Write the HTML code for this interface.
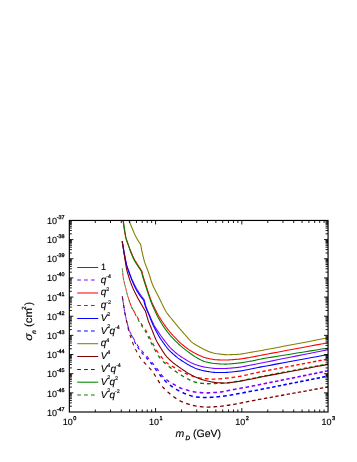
<!DOCTYPE html>
<html><head><meta charset="utf-8"><title>plot</title>
<style>html,body{margin:0;padding:0;background:#fff;}svg{will-change:transform;}body{width:357px;height:462px;position:relative;overflow:hidden;font-family:"Liberation Sans",sans-serif;}</style>
</head><body>
<svg width="357" height="462" viewBox="0 0 357 462" style="position:absolute;left:0;top:0">
<rect width="357" height="462" fill="#fff"/>
<defs><clipPath id="c"><rect x="69.35" y="220.45" width="258.70" height="191.55"/></clipPath></defs>
<g clip-path="url(#c)" fill="none" stroke-linejoin="round">
<path d="M122.20,241.20L122.28,241.68L122.40,242.40L122.56,243.30L122.74,244.36L122.94,245.52L123.15,246.76L123.37,248.02L123.58,249.26L123.79,250.46L123.98,251.55L124.16,252.52L124.30,253.30L124.44,254.06L124.62,254.95L124.81,255.94L125.02,257.01L125.24,258.12L125.46,259.24L125.69,260.35L125.91,261.41L126.11,262.40L126.30,263.28L126.46,264.02L126.60,264.60L126.72,265.08L126.86,265.56L126.99,266.02L127.14,266.48L127.29,266.93L127.44,267.38L127.60,267.82L127.76,268.26L127.92,268.70L128.08,269.13L128.24,269.57L128.40,270.00L128.59,270.51L128.82,271.16L129.10,271.91L129.40,272.75L129.74,273.65L130.08,274.59L130.44,275.53L130.79,276.46L131.13,277.34L131.45,278.16L131.74,278.89L132.00,279.50L132.27,280.10L132.59,280.80L132.96,281.58L133.36,282.41L133.78,283.28L134.22,284.17L134.65,285.05L135.08,285.90L135.49,286.70L135.87,287.43L136.21,288.07L136.50,288.60L136.79,289.10L137.12,289.66L137.50,290.26L137.90,290.90L138.32,291.55L138.75,292.21L139.18,292.85L139.59,293.47L139.98,294.05L140.33,294.58L140.64,295.03L140.90,295.40L141.15,295.75L141.43,296.13L141.74,296.55L142.07,296.98L142.41,297.42L142.74,297.85L143.07,298.26L143.37,298.65L143.65,299.00L143.88,299.30L144.07,299.53L144.20,299.70L144.26,299.95L144.35,300.31L144.45,300.77L144.58,301.30L144.72,301.89L144.87,302.52L145.03,303.17L145.19,303.81L145.35,304.44L145.51,305.03L145.66,305.55L145.80,306.00L145.95,306.44L146.13,306.96L146.34,307.53L146.57,308.15L146.82,308.81L147.08,309.50L147.35,310.20L147.63,310.90L147.91,311.59L148.18,312.27L148.45,312.91L148.70,313.50L148.99,314.16L149.35,314.99L149.77,315.96L150.24,317.03L150.74,318.18L151.27,319.36L151.81,320.55L152.34,321.72L152.86,322.83L153.35,323.85L153.80,324.75L154.20,325.50L154.61,326.22L155.10,327.04L155.66,327.94L156.26,328.89L156.91,329.89L157.57,330.90L158.25,331.91L158.91,332.90L159.55,333.84L160.16,334.72L160.71,335.51L161.20,336.20L161.71,336.90L162.31,337.72L162.99,338.64L163.74,339.63L164.53,340.66L165.34,341.72L166.15,342.77L166.95,343.78L167.71,344.73L168.42,345.60L169.06,346.35L169.60,346.97L170.13,347.54L170.74,348.16L171.42,348.82L172.14,349.51L172.90,350.22L173.68,350.93L174.46,351.64L175.24,352.32L176.00,352.97L176.72,353.57L177.39,354.11L178.00,354.58L178.66,355.06L179.47,355.63L180.40,356.26L181.43,356.94L182.51,357.64L183.63,358.36L184.74,359.06L185.82,359.74L186.84,360.36L187.76,360.92L188.56,361.39L189.20,361.76L189.78,362.07L190.42,362.39L191.10,362.71L191.80,363.03L192.52,363.34L193.25,363.65L193.97,363.94L194.66,364.22L195.33,364.47L195.94,364.70L196.51,364.91L197.00,365.08L197.50,365.25L198.07,365.42L198.70,365.61L199.37,365.80L200.08,365.99L200.81,366.18L201.55,366.37L202.27,366.54L202.97,366.71L203.64,366.86L204.25,366.99L204.80,367.10L205.38,367.20L206.06,367.32L206.84,367.45L207.69,367.58L208.59,367.71L209.53,367.84L210.47,367.96L211.40,368.08L212.29,368.19L213.14,368.28L213.92,368.35L214.60,368.40L215.30,368.43L216.14,368.46L217.09,368.49L218.12,368.50L219.21,368.51L220.33,368.51L221.46,368.51L222.58,368.50L223.66,368.49L224.67,368.46L225.59,368.43L226.40,368.40L227.23,368.35L228.23,368.28L229.35,368.20L230.56,368.10L231.85,367.98L233.17,367.86L234.49,367.74L235.79,367.61L237.03,367.47L238.18,367.34L239.22,367.22L240.10,367.10L240.99,366.96L242.02,366.79L243.18,366.58L244.43,366.35L245.73,366.10L247.06,365.84L248.38,365.58L249.67,365.32L250.88,365.08L252.00,364.86L252.98,364.66L253.80,364.50L254.46,364.37L255.04,364.26L255.55,364.16L256.07,364.07L256.61,363.96L257.23,363.84L257.98,363.70L258.88,363.52L260.00,363.30L261.36,363.03L263.01,362.70L265.00,362.30L267.93,361.71L272.18,360.86L277.50,359.79L283.60,358.56L290.22,357.23L297.09,355.85L303.93,354.48L310.47,353.16L316.43,351.97L321.56,350.93L325.57,350.13L328.20,349.60" stroke="#8000ff" stroke-width="1.08"/>
<path d="M122.30,296.50L122.33,296.68M122.95,300.79L123.00,301.08L123.25,302.77L123.49,304.29M124.13,308.40L124.38,309.92L124.64,311.50L124.71,311.89M125.52,315.97L125.61,316.34L125.93,317.74L126.28,319.25L126.33,319.42" stroke="#8000ff" stroke-width="1.00"/>
<path d="M127.32,323.46L127.44,323.93L127.82,325.40L128.17,326.76L128.21,326.89M129.43,330.86L129.65,331.34L129.89,331.81L130.13,332.25L130.38,332.67L130.63,333.07L130.87,333.46L131.12,333.84L131.18,333.93M133.13,337.60L133.48,338.30L133.90,339.13L134.33,339.97L134.74,340.76M136.82,344.35L136.86,344.41L137.26,344.99L137.69,345.60L138.15,346.23L138.62,346.87L138.89,347.23" stroke="#8000ff" stroke-width="1.05"/>
<path d="M141.46,350.50L141.57,350.63L142.02,351.14L142.54,351.70L143.10,352.31L143.69,352.94L143.85,353.11" stroke="#8000ff" stroke-width="1.10"/>
<path d="M146.70,356.13L147.03,356.49L147.40,356.90L147.75,357.30L148.13,357.75L148.55,358.24L148.99,358.77L149.02,358.81" stroke="#8000ff" stroke-width="1.15"/>
<path d="M151.67,362.02L151.99,362.42L152.30,362.80L152.62,363.19L152.98,363.65L153.39,364.16L153.83,364.71L153.89,364.78" stroke="#8000ff" stroke-width="1.20"/>
<path d="M156.46,368.04L156.53,368.13L156.89,368.60L157.20,369.00L157.50,369.41L157.85,369.89L158.23,370.42L158.56,370.90" stroke="#8000ff" stroke-width="1.30"/>
<path d="M160.98,374.28L161.18,374.54L161.56,375.01L161.90,375.40L162.26,375.78L162.70,376.22L163.21,376.70L163.39,376.88" stroke="#8000ff" stroke-width="1.35"/>
<path d="M166.43,379.57L166.74,379.84L167.28,380.29L167.77,380.68L168.20,381.00L168.63,381.31L169.15,381.65L169.29,381.74" stroke="#8000ff" stroke-width="1.40"/>
<path d="M172.63,383.75L173.04,383.98L173.67,384.34L174.25,384.67L174.77,384.96L175.20,385.20L175.62,385.43L175.80,385.53M179.10,387.27L179.52,387.49L180.08,387.76L180.60,388.01L181.08,388.22L181.50,388.40L181.93,388.56L182.44,388.74L182.46,388.75" stroke="#8000ff" stroke-width="1.45"/>
<path d="M185.86,389.78L186.30,389.90L186.94,390.08L187.52,390.24L188.05,390.38L188.50,390.50L188.94,390.62L189.44,390.75L189.45,390.75" stroke="#8000ff" stroke-width="1.50"/>
<path d="M192.72,391.57L193.10,391.66L193.74,391.79L194.35,391.91L194.94,392.02L195.50,392.10L196.12,392.17L196.42,392.21M199.60,392.51L199.77,392.52L200.86,392.61L201.96,392.69L203.05,392.76L203.38,392.78M206.46,392.90L206.80,392.90L207.62,392.89L208.61,392.86L209.72,392.81L210.23,392.79M213.25,392.62L213.55,392.60L214.87,392.51L216.18,392.41L216.99,392.35M219.94,392.07L220.50,392.00L221.38,391.88L222.39,391.71L223.51,391.51L223.63,391.49M226.48,390.94L227.26,390.79L228.56,390.53L229.83,390.27L230.13,390.21M232.92,389.65L233.27,389.58L234.20,389.40L235.16,389.22L236.30,389.01L236.55,388.96M239.30,388.46L240.47,388.25L241.99,387.97L242.89,387.80M245.57,387.31L246.41,387.15L247.73,386.91L248.90,386.69L249.11,386.65M251.71,386.15L252.49,386.00L253.38,385.82L254.33,385.64L255.19,385.47M257.71,384.96L257.82,384.94L259.29,384.64L260.96,384.31L261.15,384.27" stroke="#8000ff" stroke-width="1.55"/>
<path d="M263.60,383.78L265.00,383.50L266.99,383.10M269.38,382.62L272.34,382.03L272.71,381.95M275.05,381.48L277.69,380.95L278.39,380.81M280.70,380.35L283.81,379.72L284.03,379.68M286.31,379.22L289.65,378.55M291.90,378.10L295.23,377.43M297.45,376.98L300.79,376.31M302.98,375.87L304.07,375.65L306.32,375.20M308.48,374.76L310.57,374.34L311.83,374.09M313.96,373.66L316.50,373.15L317.30,372.99M319.40,372.57L321.59,372.13L322.75,371.90M324.82,371.48L325.58,371.33L328.17,370.81" stroke="#8000ff" stroke-width="1.60"/>
<path d="M122.50,217.00L122.52,217.15L122.54,217.34L122.57,217.56L122.60,217.83L122.64,218.14L122.68,218.49L122.73,218.87L122.79,219.30L122.85,219.77L122.93,220.27L123.01,220.82L123.10,221.40L123.22,222.16L123.36,223.19L123.54,224.44L123.75,225.87L123.98,227.43L124.22,229.06L124.48,230.72L124.74,232.36L125.01,233.92L125.28,235.37L125.55,236.64L125.80,237.70L126.10,238.74L126.50,239.96L126.97,241.33L127.50,242.79L128.07,244.33L128.66,245.88L129.25,247.41L129.82,248.87L130.37,250.24L130.85,251.46L131.27,252.49L131.60,253.30L131.88,253.98L132.18,254.67L132.48,255.36L132.78,256.04L133.10,256.72L133.42,257.39L133.73,258.04L134.05,258.68L134.37,259.30L134.69,259.89L135.00,260.46L135.30,261.00L135.67,261.62L136.15,262.40L136.73,263.31L137.37,264.31L138.06,265.36L138.76,266.44L139.45,267.49L140.11,268.49L140.71,269.40L141.23,270.18L141.63,270.79L141.90,271.20L141.94,271.36L141.98,271.58L142.04,271.86L142.11,272.18L142.18,272.54L142.27,272.93L142.36,273.35L142.46,273.78L142.56,274.22L142.67,274.66L142.78,275.09L142.90,275.50L143.04,275.97L143.21,276.55L143.42,277.23L143.66,278.00L143.92,278.83L144.19,279.70L144.48,280.61L144.77,281.53L145.07,282.45L145.36,283.34L145.64,284.20L145.90,285.00L146.20,285.90L146.57,287.05L147.00,288.40L147.49,289.90L148.01,291.51L148.56,293.17L149.11,294.85L149.67,296.49L150.21,298.06L150.72,299.49L151.19,300.76L151.60,301.80L152.03,302.81L152.56,303.96L153.16,305.23L153.82,306.59L154.52,308.00L155.24,309.43L155.97,310.84L156.67,312.20L157.35,313.48L157.97,314.65L158.53,315.66L159.00,316.50L159.46,317.28L159.99,318.15L160.58,319.08L161.21,320.05L161.87,321.05L162.54,322.05L163.21,323.03L163.86,323.98L164.48,324.87L165.06,325.68L165.57,326.40L166.00,327.00L166.42,327.57L166.90,328.19L167.42,328.86L167.97,329.56L168.55,330.28L169.14,331.00L169.73,331.72L170.32,332.43L170.89,333.10L171.43,333.74L171.94,334.32L172.40,334.83L172.89,335.37L173.49,336.00L174.17,336.72L174.91,337.50L175.70,338.32L176.51,339.15L177.33,339.98L178.13,340.79L178.90,341.55L179.62,342.25L180.26,342.86L180.80,343.36L181.34,343.83L181.97,344.36L182.67,344.93L183.43,345.54L184.22,346.16L185.03,346.79L185.83,347.40L186.62,348.00L187.37,348.55L188.06,349.06L188.68,349.50L189.20,349.86L189.72,350.20L190.31,350.57L190.96,350.96L191.66,351.37L192.38,351.79L193.13,352.21L193.87,352.62L194.59,353.02L195.28,353.39L195.92,353.73L196.50,354.03L197.00,354.28L197.50,354.52L198.07,354.80L198.70,355.09L199.37,355.41L200.08,355.73L200.81,356.05L201.55,356.36L202.27,356.66L202.97,356.95L203.64,357.20L204.25,357.42L204.80,357.60L205.38,357.76L206.06,357.94L206.84,358.13L207.69,358.33L208.59,358.53L209.53,358.73L210.47,358.92L211.40,359.09L212.29,359.26L213.14,359.40L213.92,359.51L214.60,359.60L215.30,359.67L216.14,359.73L217.09,359.79L218.12,359.84L219.21,359.89L220.33,359.93L221.46,359.96L222.58,359.99L223.66,360.01L224.67,360.01L225.59,360.01L226.40,360.00L227.23,359.97L228.23,359.93L229.35,359.87L230.56,359.80L231.85,359.71L233.17,359.62L234.49,359.52L235.79,359.41L237.03,359.31L238.18,359.20L239.22,359.10L240.10,359.00L240.99,358.88L242.02,358.73L243.18,358.55L244.43,358.35L245.73,358.13L247.06,357.90L248.38,357.67L249.67,357.44L250.88,357.23L252.00,357.03L252.98,356.85L253.80,356.70L254.46,356.58L255.04,356.47L255.55,356.36L256.07,356.26L256.61,356.15L257.23,356.02L257.98,355.86L258.88,355.68L260.00,355.46L261.36,355.19L263.01,354.88L265.00,354.50L267.93,353.95L272.18,353.15L277.50,352.16L283.60,351.02L290.22,349.78L297.09,348.50L303.93,347.23L310.47,346.01L316.43,344.89L321.56,343.94L325.57,343.19L328.20,342.70" stroke="#ff0000" stroke-width="1.08"/>
<path d="M122.30,268.60L122.31,268.64L122.31,268.68L122.32,268.72L122.33,268.77L122.35,268.84L122.35,268.88M122.77,273.01L122.79,273.16L122.87,274.04L122.95,274.93L123.04,275.81L123.12,276.54M123.81,280.63L123.99,281.38L124.19,282.18L124.39,283.00L124.60,283.82L124.67,284.07M125.70,288.10L125.80,288.51L125.98,289.24L126.17,290.02L126.37,290.85L126.54,291.54M127.58,295.56L127.70,296.00L127.86,296.53L128.05,297.14L128.26,297.82L128.50,298.55L128.63,298.95" stroke="#ff0000" stroke-width="1.00"/>
<path d="M129.97,302.88L130.14,303.37L130.30,303.80L130.44,304.16L130.57,304.51L130.71,304.86L130.85,305.20L130.99,305.55L131.15,305.91L131.27,306.18M133.20,309.86L133.43,310.27L134.10,311.44L134.85,312.77L134.95,312.94M137.02,316.54L137.40,317.20L138.24,318.65L138.79,319.61M140.92,323.18L141.20,323.62L141.61,324.24L142.04,324.85L142.47,325.45L142.91,326.04L142.94,326.09" stroke="#ff0000" stroke-width="1.05"/>
<path d="M145.37,329.46L145.70,330.00L146.06,330.63L146.49,331.42L146.99,332.34L147.10,332.55" stroke="#ff0000" stroke-width="1.10"/>
<path d="M149.02,336.24L149.27,336.72L149.84,337.83L150.39,338.89L150.64,339.39M152.58,343.07L152.86,343.60L153.30,344.45L153.77,345.34L154.23,346.20" stroke="#ff0000" stroke-width="1.15"/>
<path d="M156.26,349.83L156.59,350.36L157.00,351.00L157.47,351.67L158.05,352.48L158.25,352.76" stroke="#ff0000" stroke-width="1.20"/>
<path d="M160.77,356.07L161.10,356.49L161.93,357.54L162.74,358.56L162.98,358.84" stroke="#ff0000" stroke-width="1.25"/>
<path d="M165.70,361.87L165.91,362.07L166.50,362.55L167.15,363.04L167.84,363.52L168.56,364.01L168.57,364.01M171.91,366.07L172.05,366.16L172.62,366.50L173.10,366.80L173.58,367.10L174.13,367.43L174.74,367.80L175.01,367.96M178.26,369.83L178.80,370.13L179.40,370.47L179.94,370.76L180.40,371.00L180.86,371.23L181.40,371.49L181.51,371.54" stroke="#ff0000" stroke-width="1.30"/>
<path d="M184.76,373.02L185.33,373.27L185.96,373.55L186.54,373.80L187.06,374.02L187.50,374.20L187.93,374.38L188.18,374.47M191.36,375.69L191.37,375.70L191.97,375.92L192.55,376.12L193.09,376.31L193.57,376.47L194.00,376.60L194.42,376.72L194.89,376.86L194.92,376.87M198.05,377.68L198.39,377.75L199.03,377.89L199.66,378.01L200.29,378.11L200.90,378.20L201.62,378.28L201.78,378.30M204.85,378.59L204.86,378.59L206.17,378.71L207.54,378.81L208.62,378.89M211.65,379.09L212.72,379.15L213.75,379.19L214.60,379.20L215.40,379.19L215.41,379.19M218.37,379.01L219.40,378.93L220.50,378.83L221.60,378.72L222.10,378.67M225.00,378.36L225.60,378.29L226.40,378.20L227.23,378.10L228.23,377.98L228.70,377.92M231.54,377.56L231.85,377.52L233.17,377.34L234.49,377.16L235.20,377.05M237.98,376.65L238.18,376.62L239.22,376.45L240.10,376.30L240.99,376.13L241.59,376.01M244.26,375.44L244.43,375.41L245.73,375.12L247.06,374.82L247.79,374.65M250.38,374.06L250.88,373.95L252.00,373.70L252.98,373.48L253.80,373.30L253.86,373.29M256.39,372.73L256.61,372.68L257.23,372.54L257.98,372.39L258.88,372.20L259.82,372.01M262.30,371.52L263.01,371.38L265.00,371.00L265.70,370.87M268.11,370.41L271.46,369.77M273.81,369.32L277.15,368.68M279.47,368.24L282.81,367.61M285.10,367.17L288.45,366.54M290.71,366.11L294.05,365.48M296.28,365.05L297.09,364.90L299.63,364.42M301.83,364.00L303.93,363.60L305.18,363.37M307.35,362.95L310.47,362.36L310.70,362.32M312.84,361.91L316.19,361.28M318.30,360.88L321.56,360.26L321.65,360.24M323.74,359.85L325.57,359.50L327.09,359.21" stroke="#ff0000" stroke-width="1.35"/>
<path d="M122.20,241.20L122.28,241.68L122.40,242.40L122.54,243.30L122.71,244.36L122.90,245.52L123.10,246.76L123.31,248.02L123.52,249.26L123.71,250.46L123.90,251.55L124.06,252.52L124.20,253.30L124.34,254.06L124.50,254.95L124.69,255.94L124.89,257.01L125.10,258.12L125.31,259.24L125.53,260.35L125.74,261.41L125.93,262.40L126.11,263.28L126.27,264.02L126.40,264.60L126.52,265.08L126.64,265.56L126.77,266.02L126.91,266.48L127.05,266.93L127.19,267.38L127.34,267.82L127.49,268.26L127.64,268.70L127.80,269.13L127.95,269.57L128.10,270.00L128.28,270.51L128.51,271.15L128.77,271.91L129.07,272.74L129.40,273.64L129.74,274.57L130.08,275.51L130.42,276.44L130.75,277.32L131.07,278.15L131.35,278.88L131.60,279.50L131.86,280.12L132.16,280.84L132.51,281.65L132.90,282.52L133.30,283.43L133.72,284.36L134.13,285.28L134.54,286.17L134.93,287.02L135.30,287.78L135.62,288.45L135.90,289.00L136.18,289.52L136.50,290.10L136.87,290.72L137.26,291.38L137.67,292.05L138.09,292.73L138.50,293.39L138.90,294.03L139.29,294.62L139.64,295.16L139.94,295.62L140.20,296.00L140.45,296.35L140.75,296.74L141.07,297.16L141.42,297.59L141.78,298.03L142.14,298.46L142.49,298.87L142.81,299.26L143.11,299.60L143.36,299.90L143.56,300.14L143.70,300.30L143.76,300.54L143.86,300.89L143.97,301.33L144.10,301.84L144.25,302.41L144.41,303.02L144.58,303.64L144.75,304.27L144.92,304.87L145.09,305.44L145.25,305.96L145.40,306.40L145.57,306.84L145.77,307.36L146.01,307.95L146.28,308.58L146.56,309.25L146.86,309.95L147.17,310.67L147.48,311.38L147.79,312.09L148.08,312.77L148.35,313.41L148.60,314.00L148.87,314.65L149.19,315.46L149.56,316.39L149.97,317.42L150.41,318.52L150.86,319.66L151.32,320.81L151.78,321.94L152.23,323.03L152.66,324.03L153.05,324.93L153.40,325.70L153.77,326.46L154.21,327.35L154.71,328.33L155.26,329.40L155.84,330.51L156.44,331.65L157.06,332.79L157.66,333.91L158.26,334.97L158.82,335.96L159.34,336.84L159.80,337.60L160.29,338.36L160.87,339.25L161.54,340.24L162.27,341.31L163.05,342.42L163.85,343.55L164.66,344.68L165.46,345.77L166.23,346.80L166.96,347.74L167.62,348.56L168.20,349.24L168.79,349.88L169.49,350.59L170.28,351.36L171.14,352.18L172.05,353.01L172.98,353.85L173.92,354.69L174.84,355.49L175.73,356.25L176.57,356.94L177.33,357.56L178.00,358.08L178.69,358.59L179.53,359.18L180.47,359.81L181.50,360.49L182.58,361.19L183.69,361.90L184.79,362.59L185.86,363.25L186.86,363.87L187.77,364.42L188.56,364.89L189.20,365.26L189.78,365.58L190.42,365.92L191.10,366.26L191.80,366.61L192.52,366.95L193.25,367.29L193.97,367.62L194.66,367.93L195.33,368.21L195.94,368.47L196.51,368.69L197.00,368.88L197.50,369.06L198.07,369.24L198.70,369.44L199.37,369.64L200.08,369.84L200.81,370.04L201.55,370.23L202.27,370.42L202.97,370.59L203.64,370.75L204.25,370.88L204.80,371.00L205.38,371.11L206.06,371.23L206.84,371.37L207.69,371.51L208.59,371.65L209.53,371.79L210.47,371.93L211.40,372.06L212.29,372.17L213.14,372.27L213.92,372.35L214.60,372.40L215.30,372.44L216.14,372.47L217.09,372.49L218.12,372.51L219.21,372.52L220.33,372.52L221.46,372.52L222.58,372.51L223.66,372.49L224.67,372.47L225.59,372.44L226.40,372.40L227.23,372.35L228.23,372.27L229.35,372.18L230.56,372.07L231.85,371.95L233.17,371.81L234.49,371.68L235.79,371.53L237.03,371.39L238.18,371.25L239.22,371.12L240.10,371.00L240.99,370.86L242.02,370.68L243.18,370.48L244.43,370.24L245.73,369.99L247.06,369.74L248.38,369.47L249.67,369.22L250.88,368.98L252.00,368.75L252.98,368.56L253.80,368.40L254.46,368.27L255.04,368.16L255.55,368.05L256.07,367.94L256.61,367.83L257.23,367.70L257.98,367.55L258.88,367.37L260.00,367.15L261.36,366.89L263.01,366.57L265.00,366.20L267.93,365.66L272.18,364.87L277.50,363.88L283.60,362.75L290.22,361.52L297.09,360.25L303.93,358.99L310.47,357.78L316.43,356.68L321.56,355.73L325.57,354.99L328.20,354.50" stroke="#0000ff" stroke-width="1.08"/>
<path d="M122.30,296.50L122.41,297.20L122.57,298.23L122.77,299.55L122.92,300.53M123.54,304.64L123.81,306.38L124.09,308.14M124.78,312.25L124.89,312.87L125.10,314.00L125.33,315.09L125.46,315.72M126.39,319.77L126.66,320.90L127.05,322.50L127.23,323.22" stroke="#0000ff" stroke-width="1.00"/>
<path d="M128.24,327.25L128.49,328.20L128.77,329.22L129.00,330.00L129.20,330.62L129.21,330.65M130.97,334.42L131.12,334.69L131.36,335.13L131.58,335.57L131.80,336.00L132.04,336.50L132.34,337.12L132.56,337.58M134.38,341.32L134.76,342.07L135.17,342.88L135.55,343.62L135.77,344.02M137.64,347.05L137.69,347.13L138.15,347.80L138.62,348.48L139.10,349.15L139.37,349.54" stroke="#0000ff" stroke-width="1.05"/>
<path d="M141.52,352.39L141.57,352.46L142.02,352.99L142.53,353.58L143.09,354.21L143.51,354.68" stroke="#0000ff" stroke-width="1.10"/>
<path d="M145.90,357.33L146.04,357.49L146.56,358.06L147.02,358.57L147.40,359.00L147.77,359.42L147.92,359.59" stroke="#0000ff" stroke-width="1.15"/>
<path d="M150.28,362.25L150.70,362.73L151.20,363.30L151.67,363.85L152.11,364.35L152.36,364.66" stroke="#0000ff" stroke-width="1.20"/>
<path d="M154.80,368.02L154.92,368.20L155.31,368.77L155.69,369.32L156.05,369.86L156.40,370.36L156.72,370.81L156.81,370.94" stroke="#0000ff" stroke-width="1.25"/>
<path d="M159.31,374.27L159.36,374.34L159.82,374.94L160.28,375.53L160.73,376.10L161.16,376.62L161.51,377.04" stroke="#0000ff" stroke-width="1.35"/>
<path d="M164.31,380.05L164.35,380.10L164.96,380.71L165.57,381.32L166.17,381.91L166.74,382.47L166.85,382.57" stroke="#0000ff" stroke-width="1.40"/>
<path d="M169.90,385.10L170.36,385.43L171.02,385.90L171.70,386.37L172.38,386.84L172.87,387.17M176.07,389.23L176.10,389.25L176.63,389.56L177.20,389.89L177.78,390.22L178.38,390.55L178.98,390.88L179.25,391.03" stroke="#0000ff" stroke-width="1.45"/>
<path d="M182.51,392.65L182.89,392.81L183.44,393.04L184.02,393.28L184.62,393.51L185.22,393.74L185.80,393.97L185.94,394.02M189.20,395.19L189.24,395.21L189.81,395.41L190.42,395.62L191.05,395.83L191.70,396.03L192.34,396.23L192.76,396.34" stroke="#0000ff" stroke-width="1.50"/>
<path d="M195.98,396.94L196.25,396.97L197.19,397.05L198.23,397.13L199.35,397.21L199.75,397.24M202.85,397.41L203.97,397.45L205.02,397.48L205.98,397.50L206.64,397.50M209.68,397.38L209.76,397.38L210.97,397.30L212.26,397.22L213.44,397.13M216.42,396.89L217.43,396.80L218.58,396.69L219.62,396.59L220.15,396.54M223.07,396.18L223.51,396.12L224.71,395.96L225.97,395.78L226.76,395.67M229.60,395.24L229.83,395.21L231.06,395.01L232.22,394.83L233.26,394.66M236.04,394.16L236.30,394.11L237.59,393.86L239.00,393.58L239.66,393.45M242.36,392.91L243.51,392.68L244.99,392.38L245.91,392.19M248.55,391.66L248.90,391.59L249.90,391.40L250.78,391.23L251.63,391.08L252.06,391.00M254.63,390.54L255.37,390.41L256.53,390.20L257.82,389.97L258.10,389.91M260.60,389.45L260.96,389.38L262.85,389.02L264.01,388.79" stroke="#0000ff" stroke-width="1.55"/>
<path d="M266.44,388.32L268.02,388.01L269.80,387.66M272.16,387.19L272.34,387.16L275.49,386.53M277.82,386.07L281.16,385.41M283.45,384.96L283.81,384.89L286.79,384.30M289.06,383.85L290.42,383.58L292.40,383.19M294.63,382.75L297.26,382.23L297.97,382.09M300.18,381.65L303.52,380.99M305.70,380.56L309.04,379.89M311.19,379.47L314.53,378.81M316.65,378.39L320.00,377.72M322.09,377.31L325.43,376.65M327.50,376.24L328.20,376.10" stroke="#0000ff" stroke-width="1.60"/>
<path d="M127.40,217.00L127.47,217.15L127.55,217.35L127.66,217.59L127.78,217.88L127.92,218.20L128.08,218.56L128.25,218.96L128.44,219.39L128.64,219.85L128.85,220.34L129.07,220.86L129.30,221.40L129.60,222.10L130.00,223.06L130.48,224.23L131.03,225.57L131.63,227.01L132.26,228.51L132.89,230.03L133.51,231.50L134.10,232.88L134.64,234.13L135.12,235.18L135.50,236.00L135.87,236.72L136.30,237.52L136.79,238.36L137.30,239.24L137.84,240.12L138.37,240.99L138.89,241.82L139.38,242.60L139.82,243.29L140.20,243.89L140.50,244.37L140.70,244.70L140.75,244.97L140.82,245.35L140.90,245.83L141.00,246.40L141.12,247.02L141.24,247.69L141.36,248.39L141.49,249.09L141.63,249.78L141.76,250.44L141.88,251.06L142.00,251.60L142.13,252.18L142.30,252.90L142.49,253.73L142.70,254.64L142.93,255.61L143.18,256.62L143.43,257.64L143.68,258.64L143.93,259.61L144.17,260.50L144.39,261.31L144.60,262.00L144.83,262.69L145.11,263.50L145.44,264.39L145.80,265.37L146.19,266.38L146.59,267.43L146.99,268.48L147.39,269.51L147.77,270.50L148.12,271.43L148.44,272.27L148.70,273.00L148.95,273.74L149.24,274.62L149.55,275.60L149.89,276.67L150.24,277.78L150.60,278.93L150.97,280.08L151.34,281.21L151.70,282.29L152.05,283.30L152.39,284.21L152.70,285.00L153.05,285.79L153.48,286.71L153.97,287.74L154.52,288.85L155.11,290.02L155.72,291.21L156.34,292.41L156.94,293.59L157.53,294.73L158.08,295.79L158.57,296.75L159.00,297.60L159.43,298.48L159.94,299.53L160.52,300.72L161.14,302.01L161.80,303.37L162.47,304.76L163.14,306.14L163.80,307.47L164.44,308.72L165.02,309.85L165.55,310.82L166.00,311.60L166.45,312.30L166.98,313.07L167.58,313.87L168.21,314.70L168.88,315.55L169.56,316.39L170.24,317.22L170.89,318.01L171.52,318.76L172.08,319.44L172.58,320.05L173.00,320.56L173.39,321.05L173.83,321.59L174.30,322.17L174.79,322.78L175.31,323.41L175.83,324.04L176.34,324.67L176.85,325.28L177.34,325.87L177.80,326.43L178.22,326.93L178.60,327.38L178.99,327.83L179.45,328.37L179.97,328.98L180.53,329.63L181.13,330.31L181.74,331.01L182.35,331.72L182.96,332.41L183.54,333.07L184.08,333.68L184.57,334.24L185.00,334.72L185.43,335.20L185.94,335.78L186.51,336.43L187.12,337.13L187.77,337.86L188.43,338.61L189.10,339.35L189.75,340.07L190.39,340.74L190.98,341.35L191.52,341.87L192.00,342.29L192.49,342.67L193.08,343.09L193.74,343.53L194.46,343.99L195.22,344.46L196.00,344.92L196.78,345.37L197.54,345.81L198.26,346.22L198.92,346.59L199.51,346.92L200.00,347.20L200.47,347.47L201.01,347.76L201.59,348.08L202.21,348.42L202.86,348.76L203.52,349.11L204.17,349.44L204.82,349.77L205.43,350.08L206.01,350.36L206.54,350.60L207.00,350.80L207.46,350.99L208.00,351.20L208.59,351.43L209.22,351.66L209.90,351.90L210.59,352.15L211.30,352.38L212.00,352.61L212.70,352.82L213.37,353.01L214.01,353.17L214.60,353.30L215.25,353.42L216.05,353.56L216.98,353.70L218.00,353.84L219.10,353.99L220.23,354.14L221.38,354.27L222.52,354.40L223.62,354.51L224.65,354.60L225.59,354.66L226.40,354.70L227.23,354.71L228.23,354.71L229.35,354.69L230.56,354.66L231.85,354.62L233.17,354.56L234.49,354.50L235.79,354.43L237.03,354.35L238.18,354.27L239.22,354.18L240.10,354.10L240.99,353.99L242.02,353.85L243.18,353.67L244.43,353.46L245.73,353.24L247.06,353.01L248.38,352.78L249.67,352.54L250.88,352.32L252.00,352.12L252.98,351.94L253.80,351.80L254.46,351.69L255.04,351.59L255.55,351.51L256.07,351.42L256.61,351.33L257.23,351.22L257.98,351.09L258.88,350.93L260.00,350.73L261.36,350.48L263.01,350.17L265.00,349.80L267.93,349.25L272.18,348.44L277.50,347.43L283.60,346.27L290.22,345.02L297.09,343.71L303.93,342.41L310.47,341.17L316.43,340.04L321.56,339.06L325.57,338.30L328.20,337.80" stroke="#808000" stroke-width="1.08"/>
<path d="M122.30,268.60L122.31,268.64L122.31,268.68L122.32,268.72L122.33,268.77L122.35,268.84L122.36,268.92L122.38,269.02L122.40,269.15L122.42,269.31L122.44,269.50L122.47,269.73L122.50,270.00L122.54,270.38L122.59,270.91L122.65,271.57L122.71,272.33L122.74,272.66M123.15,276.79L123.22,277.44L123.31,278.13L123.40,278.70L123.51,279.25L123.64,279.90L123.73,280.28M124.73,284.32L124.81,284.62L125.01,285.39L125.19,286.10L125.36,286.75L125.50,287.30L125.61,287.75M126.61,291.79L126.79,292.51L126.99,293.33L127.19,294.10L127.38,294.82L127.48,295.22" stroke="#008000" stroke-width="1.00"/>
<path d="M128.69,299.20L128.75,299.38L129.00,300.16L129.25,300.94L129.50,301.68L129.74,302.38L129.80,302.56M131.27,306.45L131.32,306.57L131.51,306.98L131.72,307.43L131.95,307.91L132.21,308.43L132.50,309.00L132.83,309.63M134.77,313.30L134.85,313.45L135.68,314.99L136.21,315.98M137.90,319.12L138.24,319.74L139.03,321.20L139.35,321.79M141.09,324.89L141.20,325.07L141.61,325.74L142.04,326.40L142.47,327.06L142.73,327.45" stroke="#008000" stroke-width="1.05"/>
<path d="M144.73,330.40L145.00,330.83L145.37,331.42L145.70,332.00L146.06,332.66L146.25,333.03M147.86,336.21L148.10,336.68L148.68,337.86L149.21,338.93" stroke="#008000" stroke-width="1.10"/>
<path d="M150.79,342.12L150.89,342.31L151.33,343.18L151.70,343.90L152.06,344.58L152.37,345.17" stroke="#008000" stroke-width="1.15"/>
<path d="M154.36,348.82L154.44,348.96L154.95,349.88L155.44,350.76L155.90,351.59L156.08,351.92" stroke="#008000" stroke-width="1.20"/>
<path d="M158.23,355.48L158.28,355.56L158.64,356.11L159.01,356.66L159.37,357.20L159.73,357.72L160.08,358.21L160.23,358.40" stroke="#008000" stroke-width="1.25"/>
<path d="M163.03,361.45L163.45,361.84L163.94,362.29L164.42,362.73L164.89,363.15L165.33,363.54L165.68,363.84M168.79,366.35L169.17,366.65L169.77,367.11L170.37,367.57L170.95,368.01L171.49,368.42L171.66,368.55M174.76,370.80L175.20,371.11L175.87,371.58L176.54,372.05L177.20,372.51L177.76,372.89M180.83,374.90L180.96,374.98L181.60,375.37L182.26,375.77L182.93,376.18L183.60,376.58L183.99,376.81" stroke="#008000" stroke-width="1.30"/>
<path d="M187.04,378.55L187.30,378.69L187.83,378.96L188.40,379.26L188.98,379.56L189.58,379.86L190.18,380.15L190.36,380.24M193.43,381.56L193.56,381.60L194.07,381.76L194.62,381.93L195.19,382.09L195.78,382.25L196.37,382.41L196.95,382.56L197.05,382.58M200.17,383.16L200.70,383.22L201.41,383.29L202.17,383.36L202.94,383.43L203.72,383.50L203.95,383.51M207.02,383.70L207.49,383.71L208.04,383.71L208.64,383.71L209.28,383.69L209.95,383.68L210.63,383.66L210.79,383.65M213.80,383.53L214.01,383.52L214.60,383.50L215.26,383.47L216.07,383.44L217.01,383.40L217.55,383.38M220.51,383.26L221.48,383.21L222.63,383.15L223.72,383.09L224.24,383.06M227.13,382.82L227.15,382.82L228.00,382.72L228.94,382.60L229.94,382.46L230.81,382.34M233.62,381.92L234.26,381.82L235.31,381.66L236.31,381.50L237.25,381.34L237.27,381.34M240.01,380.86L240.15,380.83L241.46,380.59L242.89,380.32L243.60,380.18M246.26,379.68L247.53,379.43L249.05,379.14L249.79,378.99M252.38,378.48L252.89,378.38L253.80,378.20L254.51,378.05L255.12,377.92L255.65,377.79L255.85,377.75M258.34,377.16L258.94,377.02L260.03,376.79L261.37,376.51L261.76,376.44M264.21,375.95L265.00,375.80L267.60,375.30M269.99,374.85L272.18,374.44L273.33,374.22M275.67,373.78L277.50,373.43L279.01,373.15M281.32,372.71L283.60,372.28L284.66,372.08M286.94,371.65L290.22,371.04L290.29,371.02M292.54,370.60L295.89,369.97M298.11,369.55L301.46,368.92M303.65,368.51L303.93,368.46L307.00,367.88M309.16,367.48L310.47,367.23L312.51,366.85M314.64,366.45L316.43,366.11L317.99,365.82M320.10,365.42L321.56,365.15L323.45,364.79M325.53,364.40L325.57,364.39L328.20,363.90" stroke="#008000" stroke-width="1.35"/>
<path d="M122.20,241.20L122.27,241.68L122.38,242.40L122.51,243.30L122.67,244.36L122.84,245.52L123.02,246.76L123.21,248.02L123.39,249.26L123.57,250.46L123.74,251.55L123.88,252.52L124.00,253.30L124.12,254.06L124.26,254.95L124.41,255.94L124.58,257.01L124.76,258.12L124.93,259.24L125.11,260.35L125.28,261.41L125.44,262.40L125.58,263.28L125.70,264.02L125.80,264.60L125.88,265.08L125.95,265.55L126.03,266.01L126.10,266.46L126.17,266.90L126.24,267.34L126.32,267.78L126.40,268.21L126.49,268.65L126.58,269.10L126.69,269.54L126.80,270.00L126.95,270.55L127.14,271.26L127.38,272.09L127.65,273.02L127.94,274.02L128.25,275.06L128.56,276.11L128.87,277.13L129.16,278.10L129.44,278.99L129.69,279.76L129.90,280.40L130.11,281.00L130.35,281.67L130.62,282.40L130.92,283.17L131.23,283.96L131.55,284.77L131.87,285.58L132.19,286.37L132.50,287.12L132.79,287.82L133.06,288.45L133.30,289.00L133.56,289.56L133.86,290.22L134.22,290.95L134.60,291.75L135.01,292.58L135.43,293.42L135.85,294.27L136.26,295.08L136.65,295.86L137.01,296.56L137.33,297.19L137.60,297.70L137.86,298.19L138.16,298.73L138.48,299.32L138.83,299.95L139.19,300.59L139.56,301.24L139.93,301.88L140.29,302.51L140.64,303.11L140.96,303.66L141.25,304.17L141.50,304.60L141.76,305.05L142.08,305.59L142.45,306.21L142.84,306.87L143.25,307.56L143.67,308.25L144.08,308.93L144.46,309.57L144.81,310.15L145.11,310.64L145.34,311.03L145.50,311.30L145.61,311.69L145.78,312.26L145.99,313.00L146.24,313.85L146.51,314.79L146.80,315.78L147.10,316.80L147.40,317.80L147.68,318.75L147.95,319.63L148.19,320.39L148.40,321.00L148.61,321.58L148.87,322.26L149.16,323.01L149.48,323.81L149.82,324.63L150.17,325.47L150.51,326.29L150.83,327.07L151.14,327.79L151.40,328.44L151.63,328.98L151.80,329.40L151.93,329.74L152.06,330.05L152.17,330.35L152.28,330.63L152.38,330.91L152.48,331.18L152.59,331.46L152.69,331.73L152.80,332.02L152.92,332.33L153.06,332.65L153.20,333.00L153.38,333.43L153.59,333.98L153.85,334.62L154.14,335.35L154.46,336.14L154.79,336.98L155.15,337.83L155.52,338.69L155.89,339.54L156.27,340.35L156.64,341.11L157.00,341.80L157.43,342.56L157.99,343.52L158.66,344.63L159.41,345.86L160.22,347.18L161.06,348.52L161.90,349.87L162.73,351.17L163.52,352.38L164.25,353.47L164.88,354.39L165.40,355.10L165.89,355.71L166.44,356.36L167.04,357.02L167.68,357.69L168.34,358.36L169.02,359.02L169.68,359.66L170.34,360.27L170.96,360.84L171.53,361.36L172.05,361.82L172.50,362.22L172.94,362.60L173.45,363.01L174.02,363.45L174.62,363.91L175.25,364.38L175.89,364.86L176.54,365.33L177.18,365.79L177.80,366.24L178.38,366.65L178.92,367.03L179.40,367.37L179.91,367.72L180.52,368.15L181.21,368.62L181.97,369.14L182.77,369.68L183.59,370.24L184.41,370.79L185.21,371.32L185.97,371.83L186.67,372.28L187.29,372.68L187.80,372.99L188.29,373.29L188.84,373.61L189.45,373.95L190.09,374.31L190.75,374.67L191.43,375.04L192.10,375.40L192.76,375.74L193.39,376.06L193.99,376.36L194.53,376.62L195.00,376.85L195.48,377.06L196.03,377.29L196.64,377.55L197.29,377.82L197.98,378.10L198.70,378.38L199.43,378.65L200.15,378.92L200.86,379.18L201.55,379.41L202.20,379.62L202.80,379.80L203.46,379.98L204.28,380.19L205.22,380.43L206.26,380.68L207.37,380.94L208.52,381.20L209.68,381.46L210.83,381.70L211.92,381.93L212.93,382.12L213.83,382.28L214.60,382.40L215.36,382.49L216.24,382.58L217.22,382.67L218.27,382.74L219.38,382.82L220.50,382.88L221.63,382.93L222.73,382.97L223.79,383.00L224.77,383.02L225.64,383.02L226.40,383.00L227.15,382.96L228.00,382.89L228.94,382.79L229.94,382.68L231.00,382.55L232.08,382.40L233.17,382.25L234.26,382.09L235.31,381.94L236.31,381.78L237.25,381.64L238.10,381.50L239.02,381.35L240.15,381.15L241.46,380.92L242.89,380.66L244.41,380.38L245.97,380.09L247.53,379.80L249.05,379.51L250.47,379.24L251.77,378.99L252.89,378.78L253.80,378.60L254.51,378.45L255.12,378.32L255.65,378.20L256.17,378.07L256.71,377.94L257.32,377.79L258.05,377.62L258.94,377.42L260.03,377.19L261.37,376.91L263.02,376.58L265.00,376.20L267.93,375.65L272.18,374.85L277.50,373.85L283.60,372.71L290.22,371.47L297.09,370.19L303.93,368.92L310.47,367.70L316.43,366.59L321.56,365.64L325.57,364.89L328.20,364.40" stroke="#800000" stroke-width="1.08"/>
<path d="M122.30,296.50L122.41,297.20L122.57,298.23L122.77,299.53L122.93,300.53M123.56,304.64L123.83,306.33L124.11,308.13L124.12,308.14M124.79,312.24L124.89,312.85L125.10,314.00L125.31,315.11L125.43,315.73M126.23,319.81L126.48,321.02L126.82,322.67L126.94,323.28M127.82,327.34L127.83,327.40L128.15,328.78L128.44,329.99L128.64,330.79" stroke="#800000" stroke-width="1.00"/>
<path d="M129.87,334.76L130.14,335.57L130.59,336.90L131.02,338.11M132.43,342.02L132.79,343.00L133.13,343.89L133.40,344.60L133.65,345.22L133.69,345.33M135.42,349.11L135.72,349.72L136.02,350.30L136.30,350.85L136.56,351.35L136.80,351.80L137.05,352.26M139.11,355.86L139.30,356.17L139.71,356.85L140.12,357.50L140.51,358.11L140.87,358.64L141.02,358.85" stroke="#800000" stroke-width="1.05"/>
<path d="M143.73,362.00L144.29,362.60L144.90,363.25L145.50,363.89L146.07,364.48L146.16,364.58" stroke="#800000" stroke-width="1.10"/>
<path d="M149.01,367.60L149.39,368.00L149.84,368.46L150.28,368.93L150.70,369.38L151.11,369.83L151.43,370.19" stroke="#800000" stroke-width="1.15"/>
<path d="M153.84,373.57L154.19,374.14L154.58,374.76L154.97,375.38L155.34,375.98L155.69,376.54L155.72,376.58" stroke="#800000" stroke-width="1.20"/>
<path d="M157.91,380.11L158.22,380.62L158.69,381.38L159.16,382.13L159.62,382.87L159.78,383.12" stroke="#800000" stroke-width="1.25"/>
<path d="M162.26,386.45L162.40,386.61L162.89,387.14L163.41,387.70L163.94,388.25L164.48,388.81L164.70,389.04M167.60,391.83L167.64,391.87L168.15,392.32L168.71,392.80L169.29,393.30L169.89,393.81L170.33,394.18M173.36,396.59L173.53,396.71L174.04,397.07L174.62,397.47L175.24,397.89L175.90,398.32L176.37,398.63M179.53,400.58L179.65,400.65L180.10,400.90L180.55,401.12L181.08,401.37L181.66,401.62L182.30,401.89L182.87,402.12" stroke="#800000" stroke-width="1.30"/>
<path d="M186.18,403.37L186.67,403.55L187.10,403.70L187.52,403.84L188.01,404.00L188.54,404.16L189.11,404.33L189.71,404.51L189.73,404.51M192.97,405.39L193.01,405.41L193.40,405.50L193.77,405.58L194.19,405.67L194.64,405.77L195.12,405.86L195.62,405.96L196.13,406.05L196.65,406.14L196.65,406.14M199.81,406.59L199.95,406.61L200.53,406.68L201.16,406.74L201.84,406.81L202.55,406.88L203.27,406.94L203.58,406.96M206.66,407.10L206.80,407.10L207.54,407.09L208.46,407.06L209.55,407.01L210.43,406.97M213.44,406.81L214.75,406.73L216.08,406.65L217.19,406.57M220.14,406.33L220.50,406.30L221.38,406.20L222.39,406.08L223.51,405.93L223.85,405.89M226.72,405.48L227.26,405.40L228.56,405.21L229.83,405.01L230.39,404.92M233.21,404.47L233.27,404.46L234.20,404.30L235.16,404.13L236.30,403.91L236.84,403.81M239.58,403.27L240.47,403.09L241.99,402.78L243.16,402.55M245.82,402.01L246.41,401.89L247.73,401.63L248.90,401.39L249.35,401.31M251.95,400.81L252.49,400.71L253.38,400.54L254.33,400.36L255.37,400.17L255.43,400.16M257.96,399.69L259.29,399.44L260.96,399.14L261.40,399.06M263.87,398.61L265.00,398.40L267.26,397.99M269.65,397.55L272.34,397.06L273.00,396.94M275.34,396.52L277.69,396.09L278.69,395.91M281.01,395.48L283.81,394.98L284.35,394.88M286.64,394.46L289.99,393.85M292.24,393.44L295.59,392.83M297.82,392.43L301.17,391.82M303.36,391.42L304.07,391.29L306.72,390.81M308.88,390.41L310.57,390.11L312.24,389.80M314.37,389.41L316.50,389.03L317.73,388.80M319.84,388.42L321.59,388.10L323.19,387.81M325.27,387.43L325.58,387.38L328.20,386.90" stroke="#800000" stroke-width="1.35"/>
<path d="M122.80,217.00L122.82,217.15L122.84,217.34L122.87,217.56L122.90,217.83L122.94,218.14L122.99,218.49L123.04,218.87L123.09,219.30L123.16,219.77L123.23,220.27L123.31,220.82L123.40,221.40L123.51,222.16L123.66,223.19L123.84,224.44L124.04,225.87L124.26,227.43L124.50,229.06L124.75,230.72L125.00,232.36L125.26,233.92L125.52,235.37L125.76,236.64L126.00,237.70L126.27,238.74L126.63,239.96L127.05,241.32L127.53,242.79L128.03,244.32L128.56,245.87L129.09,247.40L129.60,248.87L130.09,250.23L130.53,251.45L130.90,252.49L131.20,253.30L131.46,253.99L131.73,254.68L132.01,255.37L132.29,256.06L132.58,256.75L132.88,257.43L133.18,258.09L133.48,258.74L133.79,259.37L134.09,259.97L134.40,260.55L134.70,261.10L135.07,261.73L135.57,262.52L136.16,263.45L136.82,264.47L137.53,265.55L138.25,266.64L138.97,267.72L139.65,268.74L140.27,269.66L140.80,270.46L141.22,271.08L141.50,271.50L141.54,271.66L141.58,271.88L141.64,272.15L141.71,272.47L141.78,272.83L141.87,273.23L141.96,273.64L142.06,274.07L142.16,274.51L142.27,274.95L142.38,275.38L142.50,275.80L142.64,276.27L142.81,276.87L143.02,277.57L143.26,278.35L143.52,279.20L143.79,280.10L144.08,281.03L144.37,281.97L144.67,282.90L144.96,283.82L145.24,284.69L145.50,285.50L145.80,286.42L146.18,287.58L146.62,288.94L147.12,290.46L147.65,292.08L148.20,293.76L148.76,295.45L149.32,297.10L149.86,298.67L150.36,300.11L150.81,301.37L151.20,302.40L151.59,303.38L152.06,304.50L152.58,305.72L153.15,307.01L153.75,308.35L154.36,309.71L154.98,311.05L155.58,312.35L156.16,313.57L156.70,314.69L157.18,315.68L157.60,316.50L158.02,317.29L158.51,318.17L159.05,319.13L159.64,320.14L160.25,321.18L160.88,322.23L161.51,323.27L162.13,324.27L162.72,325.22L163.27,326.09L163.77,326.85L164.20,327.50L164.63,328.12L165.12,328.81L165.67,329.57L166.26,330.36L166.88,331.18L167.52,332.01L168.16,332.83L168.80,333.64L169.41,334.40L169.99,335.11L170.52,335.75L171.00,336.30L171.50,336.85L172.09,337.49L172.76,338.20L173.49,338.97L174.27,339.76L175.07,340.57L175.88,341.38L176.67,342.17L177.44,342.92L178.16,343.62L178.82,344.24L179.40,344.77L180.00,345.30L180.72,345.91L181.54,346.59L182.43,347.32L183.37,348.08L184.33,348.86L185.29,349.62L186.22,350.36L187.10,351.05L187.91,351.68L188.62,352.22L189.20,352.66L189.75,353.06L190.36,353.51L191.03,353.97L191.73,354.46L192.45,354.96L193.19,355.45L193.92,355.94L194.63,356.40L195.30,356.84L195.93,357.24L196.50,357.59L197.00,357.88L197.50,358.16L198.07,358.47L198.70,358.81L199.37,359.16L200.08,359.52L200.81,359.89L201.55,360.24L202.27,360.58L202.97,360.89L203.64,361.17L204.25,361.41L204.80,361.60L205.38,361.77L206.06,361.95L206.84,362.13L207.69,362.32L208.59,362.50L209.53,362.69L210.47,362.86L211.40,363.02L212.29,363.17L213.14,363.30L213.92,363.41L214.60,363.50L215.30,363.57L216.14,363.65L217.09,363.73L218.12,363.80L219.21,363.87L220.33,363.94L221.46,363.99L222.58,364.04L223.66,364.08L224.67,364.10L225.59,364.11L226.40,364.10L227.23,364.07L228.23,364.02L229.35,363.94L230.56,363.85L231.85,363.74L233.17,363.63L234.49,363.50L235.79,363.38L237.03,363.25L238.18,363.13L239.22,363.01L240.10,362.90L240.99,362.78L242.02,362.63L243.18,362.44L244.43,362.24L245.73,362.02L247.06,361.80L248.38,361.57L249.67,361.34L250.88,361.13L252.00,360.93L252.98,360.75L253.80,360.60L254.46,360.47L255.04,360.35L255.55,360.22L256.07,360.09L256.61,359.95L257.23,359.80L257.98,359.63L258.88,359.43L260.00,359.20L261.36,358.94L263.01,358.64L265.00,358.30L267.93,357.81L272.18,357.11L277.50,356.24L283.60,355.24L290.22,354.17L297.09,353.05L303.93,351.94L310.47,350.88L316.43,349.91L321.56,349.08L325.57,348.43L328.20,348.00" stroke="#008000" stroke-width="1.08"/>
</g>
<rect x="69.35" y="220.45" width="258.70" height="191.55" fill="none" stroke="#000" stroke-width="1.15"/>
<path d="M95.31,412.00v-2.50M95.31,220.45v2.50M110.49,412.00v-2.50M110.49,220.45v2.50M121.27,412.00v-2.50M121.27,220.45v2.50M129.62,412.00v-2.50M129.62,220.45v2.50M136.45,412.00v-2.50M136.45,220.45v2.50M142.23,412.00v-2.50M142.23,220.45v2.50M147.23,412.00v-2.50M147.23,220.45v2.50M151.64,412.00v-2.50M151.64,220.45v2.50M155.58,412.00v-4.00M155.58,220.45v4.00M181.54,412.00v-2.50M181.54,220.45v2.50M196.73,412.00v-2.50M196.73,220.45v2.50M207.50,412.00v-2.50M207.50,220.45v2.50M215.86,412.00v-2.50M215.86,220.45v2.50M222.69,412.00v-2.50M222.69,220.45v2.50M228.46,412.00v-2.50M228.46,220.45v2.50M233.46,412.00v-2.50M233.46,220.45v2.50M237.87,412.00v-2.50M237.87,220.45v2.50M241.82,412.00v-4.00M241.82,220.45v4.00M267.78,412.00v-2.50M267.78,220.45v2.50M282.96,412.00v-2.50M282.96,220.45v2.50M293.73,412.00v-2.50M293.73,220.45v2.50M302.09,412.00v-2.50M302.09,220.45v2.50M308.92,412.00v-2.50M308.92,220.45v2.50M314.69,412.00v-2.50M314.69,220.45v2.50M319.69,412.00v-2.50M319.69,220.45v2.50M324.10,412.00v-2.50M324.10,220.45v2.50M69.35,233.84h2.50M328.05,233.84h-2.50M69.35,230.47h2.50M328.05,230.47h-2.50M69.35,228.07h2.50M328.05,228.07h-2.50M69.35,226.22h2.50M328.05,226.22h-2.50M69.35,224.70h2.50M328.05,224.70h-2.50M69.35,223.42h2.50M328.05,223.42h-2.50M69.35,222.31h2.50M328.05,222.31h-2.50M69.35,221.33h2.50M328.05,221.33h-2.50M69.35,239.60h4.00M328.05,239.60h-4.00M69.35,252.99h2.50M328.05,252.99h-2.50M69.35,249.62h2.50M328.05,249.62h-2.50M69.35,247.23h2.50M328.05,247.23h-2.50M69.35,245.37h2.50M328.05,245.37h-2.50M69.35,243.85h2.50M328.05,243.85h-2.50M69.35,242.57h2.50M328.05,242.57h-2.50M69.35,241.46h2.50M328.05,241.46h-2.50M69.35,240.48h2.50M328.05,240.48h-2.50M69.35,258.76h4.00M328.05,258.76h-4.00M69.35,272.15h2.50M328.05,272.15h-2.50M69.35,268.78h2.50M328.05,268.78h-2.50M69.35,266.38h2.50M328.05,266.38h-2.50M69.35,264.53h2.50M328.05,264.53h-2.50M69.35,263.01h2.50M328.05,263.01h-2.50M69.35,261.73h2.50M328.05,261.73h-2.50M69.35,260.62h2.50M328.05,260.62h-2.50M69.35,259.64h2.50M328.05,259.64h-2.50M69.35,277.91h4.00M328.05,277.91h-4.00M69.35,291.30h2.50M328.05,291.30h-2.50M69.35,287.93h2.50M328.05,287.93h-2.50M69.35,285.54h2.50M328.05,285.54h-2.50M69.35,283.68h2.50M328.05,283.68h-2.50M69.35,282.16h2.50M328.05,282.16h-2.50M69.35,280.88h2.50M328.05,280.88h-2.50M69.35,279.77h2.50M328.05,279.77h-2.50M69.35,278.79h2.50M328.05,278.79h-2.50M69.35,297.07h4.00M328.05,297.07h-4.00M69.35,310.46h2.50M328.05,310.46h-2.50M69.35,307.09h2.50M328.05,307.09h-2.50M69.35,304.69h2.50M328.05,304.69h-2.50M69.35,302.84h2.50M328.05,302.84h-2.50M69.35,301.32h2.50M328.05,301.32h-2.50M69.35,300.04h2.50M328.05,300.04h-2.50M69.35,298.93h2.50M328.05,298.93h-2.50M69.35,297.95h2.50M328.05,297.95h-2.50M69.35,316.23h4.00M328.05,316.23h-4.00M69.35,329.61h2.50M328.05,329.61h-2.50M69.35,326.24h2.50M328.05,326.24h-2.50M69.35,323.85h2.50M328.05,323.85h-2.50M69.35,321.99h2.50M328.05,321.99h-2.50M69.35,320.47h2.50M328.05,320.47h-2.50M69.35,319.19h2.50M328.05,319.19h-2.50M69.35,318.08h2.50M328.05,318.08h-2.50M69.35,317.10h2.50M328.05,317.10h-2.50M69.35,335.38h4.00M328.05,335.38h-4.00M69.35,348.77h2.50M328.05,348.77h-2.50M69.35,345.40h2.50M328.05,345.40h-2.50M69.35,343.00h2.50M328.05,343.00h-2.50M69.35,341.15h2.50M328.05,341.15h-2.50M69.35,339.63h2.50M328.05,339.63h-2.50M69.35,338.35h2.50M328.05,338.35h-2.50M69.35,337.24h2.50M328.05,337.24h-2.50M69.35,336.26h2.50M328.05,336.26h-2.50M69.35,354.53h4.00M328.05,354.53h-4.00M69.35,367.92h2.50M328.05,367.92h-2.50M69.35,364.55h2.50M328.05,364.55h-2.50M69.35,362.16h2.50M328.05,362.16h-2.50M69.35,360.30h2.50M328.05,360.30h-2.50M69.35,358.78h2.50M328.05,358.78h-2.50M69.35,357.50h2.50M328.05,357.50h-2.50M69.35,356.39h2.50M328.05,356.39h-2.50M69.35,355.41h2.50M328.05,355.41h-2.50M69.35,373.69h4.00M328.05,373.69h-4.00M69.35,387.08h2.50M328.05,387.08h-2.50M69.35,383.71h2.50M328.05,383.71h-2.50M69.35,381.31h2.50M328.05,381.31h-2.50M69.35,379.46h2.50M328.05,379.46h-2.50M69.35,377.94h2.50M328.05,377.94h-2.50M69.35,376.66h2.50M328.05,376.66h-2.50M69.35,375.55h2.50M328.05,375.55h-2.50M69.35,374.57h2.50M328.05,374.57h-2.50M69.35,392.85h4.00M328.05,392.85h-4.00M69.35,406.23h2.50M328.05,406.23h-2.50M69.35,402.86h2.50M328.05,402.86h-2.50M69.35,400.47h2.50M328.05,400.47h-2.50M69.35,398.61h2.50M328.05,398.61h-2.50M69.35,397.09h2.50M328.05,397.09h-2.50M69.35,395.81h2.50M328.05,395.81h-2.50M69.35,394.70h2.50M328.05,394.70h-2.50M69.35,393.72h2.50M328.05,393.72h-2.50" stroke="#000" stroke-width="0.92" fill="none"/>
<g font-family="Liberation Sans, sans-serif" fill="#000" stroke="#000" stroke-width="0.13" style="text-rendering:geometricPrecision">
<text x="47.0" y="223.70" font-size="9">10</text>
<text x="56.7" y="218.80" font-size="5.4" stroke-width="0.3">-37</text>
<text x="47.0" y="242.90" font-size="9">10</text>
<text x="56.7" y="238.00" font-size="5.4" stroke-width="0.3">-38</text>
<text x="47.0" y="262.10" font-size="9">10</text>
<text x="56.7" y="257.20" font-size="5.4" stroke-width="0.3">-39</text>
<text x="47.0" y="281.30" font-size="9">10</text>
<text x="56.7" y="276.40" font-size="5.4" stroke-width="0.3">-40</text>
<text x="47.0" y="300.50" font-size="9">10</text>
<text x="56.7" y="295.60" font-size="5.4" stroke-width="0.3">-41</text>
<text x="47.0" y="319.70" font-size="9">10</text>
<text x="56.7" y="314.80" font-size="5.4" stroke-width="0.3">-42</text>
<text x="47.0" y="338.90" font-size="9">10</text>
<text x="56.7" y="334.00" font-size="5.4" stroke-width="0.3">-43</text>
<text x="47.0" y="358.10" font-size="9">10</text>
<text x="56.7" y="353.20" font-size="5.4" stroke-width="0.3">-44</text>
<text x="47.0" y="377.30" font-size="9">10</text>
<text x="56.7" y="372.40" font-size="5.4" stroke-width="0.3">-45</text>
<text x="47.0" y="396.50" font-size="9">10</text>
<text x="56.7" y="391.60" font-size="5.4" stroke-width="0.3">-46</text>
<text x="47.0" y="415.70" font-size="9">10</text>
<text x="56.7" y="410.80" font-size="5.4" stroke-width="0.3">-47</text>
<text x="62.85" y="424.8" font-size="9">10</text>
<text x="73.25" y="420.1" font-size="5.6" stroke-width="0.3">0</text>
<text x="149.08" y="424.8" font-size="9">10</text>
<text x="159.48" y="420.1" font-size="5.6" stroke-width="0.3">1</text>
<text x="235.32" y="424.8" font-size="9">10</text>
<text x="245.72" y="420.1" font-size="5.6" stroke-width="0.3">2</text>
<text x="321.55" y="424.8" font-size="9">10</text>
<text x="331.95" y="420.1" font-size="5.6" stroke-width="0.3">3</text>
<text x="175.5" y="436.7" font-size="10.5" font-style="italic">m</text>
<text x="185.4" y="440.4" font-size="6.3" font-style="italic" stroke-width="0.25">D</text>
<text x="193.1" y="436.7" font-size="10.5">(GeV)</text>
<g transform="translate(32.5,340.7) rotate(-90)">
<text transform="translate(0,-0.5) scale(1.18,1)" font-size="10.6" font-style="italic">σ</text>
<text x="6.9" y="3.6" font-size="6.4" font-style="italic" stroke-width="0.25">n</text>
<text transform="translate(13.6,-0.7) scale(1.1,1)" font-size="10.5">(cm</text>
<text x="31.0" y="-7.0" font-size="6.0" stroke-width="0.25">2</text>
<text x="35.3" y="-0.7" font-size="10.5">)</text>
</g>
<text x="101.00" y="270.40" font-size="9">1</text>
<text x="100.70" y="282.66" font-size="10" font-style="italic">q</text>
<text x="106.20" y="278.16" font-size="5.3" stroke-width="0.15">-4</text>
<text x="100.70" y="295.42" font-size="10" font-style="italic">q</text>
<text x="106.20" y="290.92" font-size="5.3" stroke-width="0.15">2</text>
<text x="100.70" y="308.18" font-size="10" font-style="italic">q</text>
<text x="106.20" y="303.68" font-size="5.3" stroke-width="0.15">-2</text>
<text x="100.70" y="321.14" font-size="9.8" font-style="italic">V</text>
<text x="107.20" y="315.54" font-size="5.3" stroke-width="0.15">2</text>
<text x="100.70" y="333.90" font-size="9.8" font-style="italic">V</text>
<text x="107.20" y="328.30" font-size="5.3" stroke-width="0.15">2</text>
<text x="109.60" y="333.70" font-size="10" font-style="italic">q</text>
<text x="114.90" y="329.20" font-size="5.3" stroke-width="0.15">-4</text>
<text x="100.70" y="346.46" font-size="10" font-style="italic">q</text>
<text x="106.20" y="341.96" font-size="5.3" stroke-width="0.15">4</text>
<text x="100.70" y="359.42" font-size="9.8" font-style="italic">V</text>
<text x="107.20" y="353.82" font-size="5.3" stroke-width="0.15">4</text>
<text x="100.70" y="372.18" font-size="9.8" font-style="italic">V</text>
<text x="107.20" y="366.58" font-size="5.3" stroke-width="0.15">4</text>
<text x="110.60" y="371.98" font-size="10" font-style="italic">q</text>
<text x="115.90" y="367.48" font-size="5.3" stroke-width="0.15">-4</text>
<text x="100.70" y="384.94" font-size="9.8" font-style="italic">V</text>
<text x="107.20" y="379.34" font-size="5.3" stroke-width="0.15">2</text>
<text x="109.60" y="384.74" font-size="10" font-style="italic">q</text>
<text x="114.90" y="380.24" font-size="5.3" stroke-width="0.15">2</text>
<text x="100.70" y="397.70" font-size="9.8" font-style="italic">V</text>
<text x="107.20" y="392.10" font-size="5.3" stroke-width="0.15">2</text>
<text x="109.60" y="397.50" font-size="10" font-style="italic">q</text>
<text x="114.90" y="393.00" font-size="5.3" stroke-width="0.15">-2</text>
</g>
<path d="M77.20,267.50H98.20" stroke="#8000ff" stroke-width="1.05" fill="none"/>
<path d="M77.20,280.00H96.20" stroke="#8000ff" stroke-width="1.15" stroke-dasharray="3.7 3.2" fill="none"/>
<path d="M77.20,293.00H98.20" stroke="#ff0000" stroke-width="1.05" fill="none"/>
<path d="M77.20,305.50H96.20" stroke="#ff0000" stroke-width="1.15" stroke-dasharray="3.7 3.2" fill="none"/>
<path d="M77.20,318.50H98.20" stroke="#0000ff" stroke-width="1.05" fill="none"/>
<path d="M77.20,331.00H96.20" stroke="#0000ff" stroke-width="1.15" stroke-dasharray="3.7 3.2" fill="none"/>
<path d="M77.20,343.70H98.20" stroke="#808000" stroke-width="1.05" fill="none"/>
<path d="M77.20,356.50H98.20" stroke="#800000" stroke-width="1.05" fill="none"/>
<path d="M77.20,369.50H96.20" stroke="#800000" stroke-width="1.15" stroke-dasharray="3.7 3.2" fill="none"/>
<path d="M77.20,382.20H98.20" stroke="#008000" stroke-width="1.05" fill="none"/>
<path d="M77.20,395.00H96.20" stroke="#008000" stroke-width="1.15" stroke-dasharray="3.7 3.2" fill="none"/>
</svg>
</body></html>
